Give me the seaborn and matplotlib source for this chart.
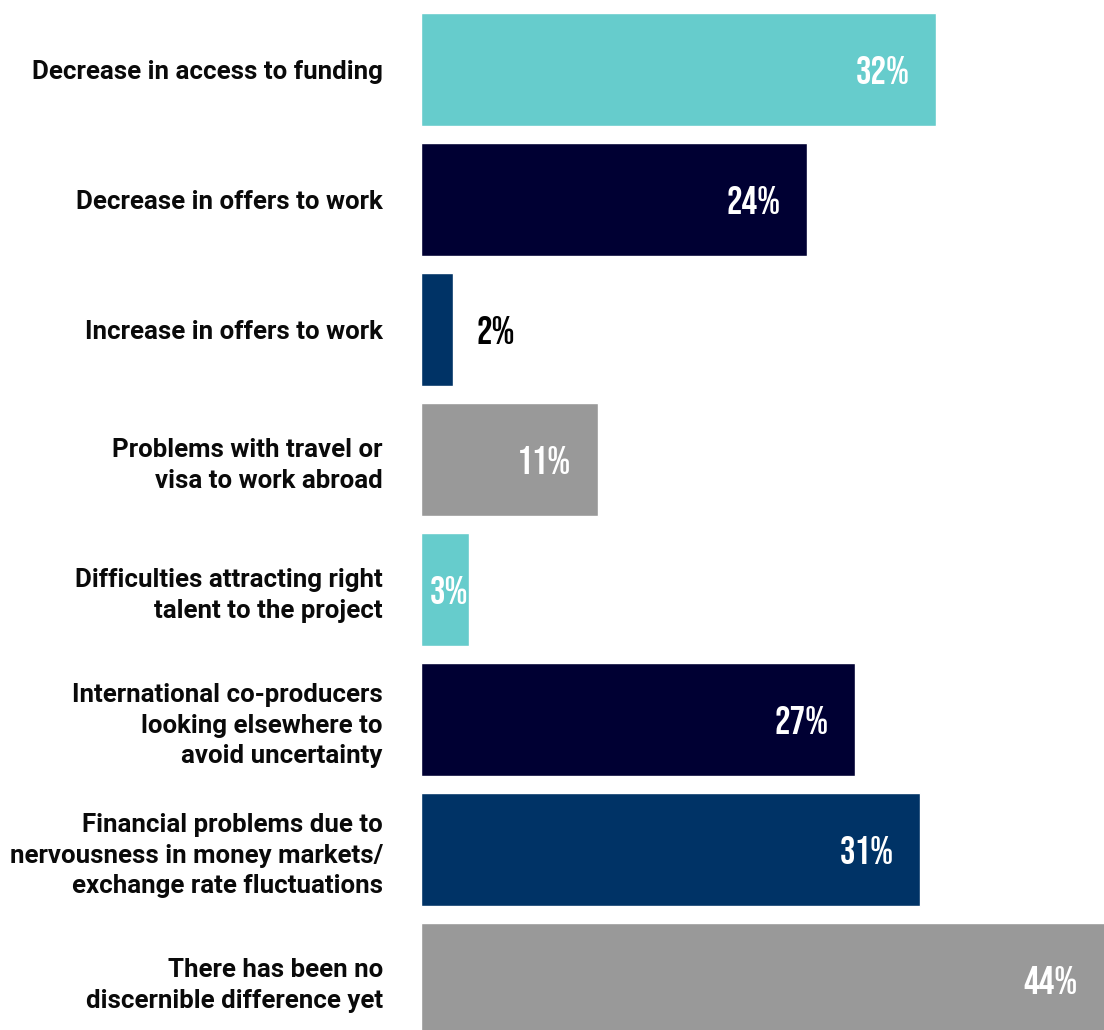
import matplotlib
matplotlib.use("Agg")
import matplotlib.pyplot as plt
import seaborn as sns
import pandas as pd

categories = [
    "Decrease in access to funding",
    "Decrease in offers to work",
    "Increase in offers to work",
    "Problems with travel or\nvisa to work abroad",
    "Difficulties attracting right\ntalent to the project",
    "International co-producers\nlooking elsewhere to\navoid uncertainty",
    "Financial problems due to\nnervousness in money markets/\nexchange rate fluctuations",
    "There has been no\ndiscernible difference yet",
]
values = [32, 24, 2, 11, 3, 27, 31, 44]
bar_colors = ["#66CCCC", "#000033", "#003366", "#999999",
              "#66CCCC", "#000033", "#003366", "#999999"]

df = pd.DataFrame({"category": categories, "value": values})

sns.set_theme(style="white")
plt.rcParams["font.family"] = ["Roboto", "DejaVu Sans"]

fig = plt.figure(figsize=(11.04, 10.30), dpi=100)
ax = fig.add_axes([421 / 1104, 0.0, 1 - 421 / 1104, 1.0])

sns.barplot(data=df, x="value", y="category", hue="category",
            palette=bar_colors, orient="h", width=0.87,
            saturation=1, legend=False, ax=ax)

xmax = 42.45
ax.set_xlim(0, xmax)
ax.set_ylim(7.385, -0.538)

for s in ax.spines.values():
    s.set_visible(False)
ax.set_xticks([])
ax.set_xlabel("")
ax.set_ylabel("")
ax.tick_params(axis="y", length=0, pad=27.5)
for lab in ax.get_yticklabels():
    lab.set_fontsize(18.6)
    lab.set_fontweight("bold")
    lab.set_color("#0a0a0a")
    lab.set_linespacing(1.33)
    lab.set_horizontalalignment("right")

value_style = dict(fontsize=28, family=["Bebas Neue", "DejaVu Sans"],
                   va="center", textcoords="offset points")
for i, v in enumerate(values):
    text = f"{v}%"
    if v <= 2:
        ax.annotate(text, (v, i), xytext=(17, 0), ha="left",
                    color="#000000", **value_style)
    elif v <= 5:
        ax.annotate(text, (0, i), xytext=(6.5, 0), ha="left",
                    color="white", **value_style)
    else:
        ax.annotate(text, (min(v, xmax), i), xytext=(-19, 0), ha="right",
                    color="white", **value_style)

fig.savefig("out.png", dpi=100, facecolor="white")
